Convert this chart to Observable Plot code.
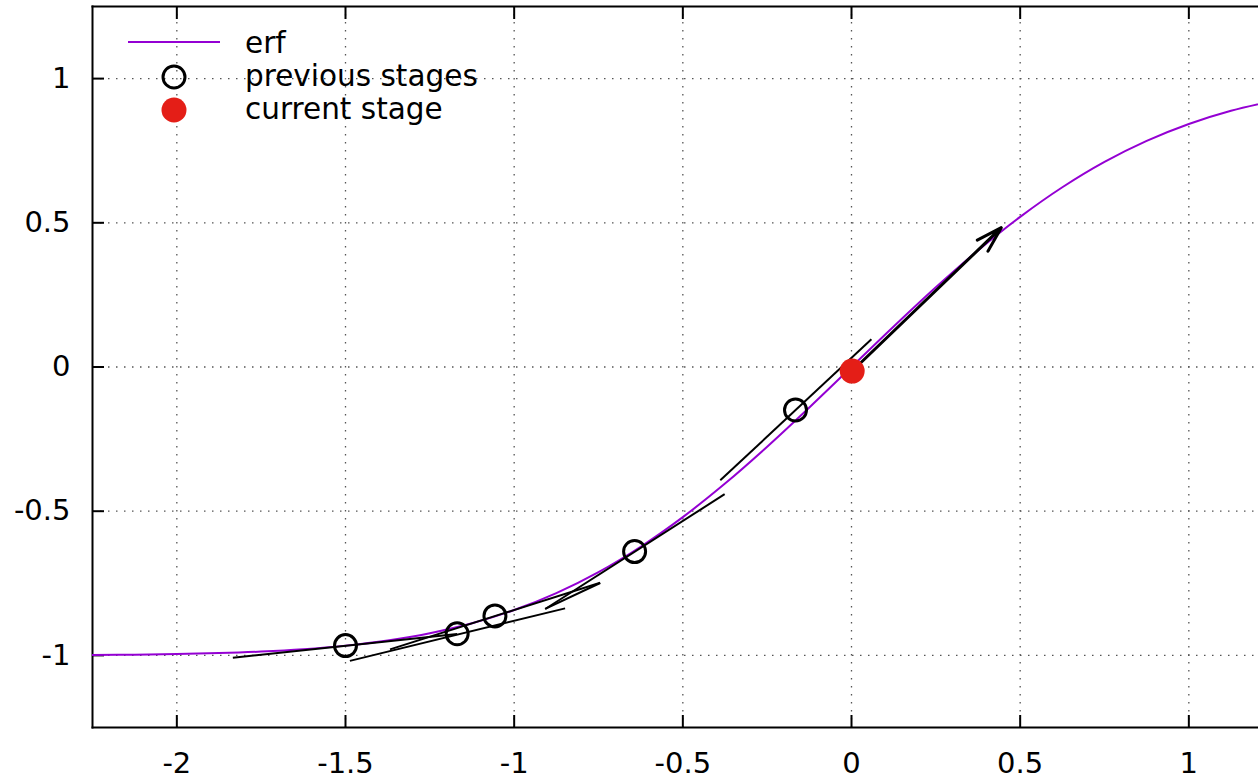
<!DOCTYPE html>
<html><head><meta charset="utf-8">
<script src="https://cdn.jsdelivr.net/npm/d3@7"></script>
<script src="https://cdn.jsdelivr.net/npm/@observablehq/plot@0.6"></script>
<style>
html,body{margin:0;padding:0;background:#fff;overflow:hidden}
</style></head><body><div id="chart"></div>
<script>
// erf curve samples
const curveX = [-2.25,-2.125,-2,-1.875,-1.75,-1.625,-1.5,-1.375,-1.25,-1.125,-1,-0.875,-0.75,-0.625,-0.5,-0.375,-0.25,-0.125,0,0.125,0.25,0.375,0.5,0.625,0.75,0.875,1,1.125,1.25];
const curveY = [-0.9985,-0.9974,-0.9953,-0.9920,-0.9867,-0.9785,-0.9661,-0.9482,-0.9229,-0.8884,-0.8427,-0.7841,-0.7112,-0.6232,-0.5205,-0.4041,-0.2763,-0.1403,0,0.1403,0.2763,0.4041,0.5205,0.6232,0.7112,0.7841,0.8427,0.8884,0.9229];

// stage points
const prevX = [-1.5, -1.169, -1.057, -0.643, -0.166];
const prevY = [-0.966, -0.925, -0.863, -0.640, -0.149];
const currX = [0.002];
const currY = [-0.014];

// slope segments
const segX1 = [-1.834, -1.487, -1.368, -0.908, -0.908, -0.389];
const segY1 = [-1.008, -1.019, -0.979, -0.839, -0.839, -0.393];
const segX2 = [-1.169, -0.849, -0.745, -0.745, -0.376, 0.059];
const segY2 = [-0.926, -0.837, -0.748, -0.749, -0.441, 0.096];

// step arrow
const arrowX1 = [0.002], arrowY1 = [-0.014], arrowX2 = [0.444], arrowY2 = [0.483];

// ticks
const xTicks = [-2, -1.5, -1, -0.5, 0, 0.5, 1];
const xTickLabels = ["-2", "-1.5", "-1", "-0.5", "0", "0.5", "1"];
const yTicks = [-1, -0.5, 0, 0.5, 1];
const yTickLabels = ["-1", "-0.5", "0", "0.5", "1"];
const legendLabels = ["erf", "previous stages", "current stage"];

const curve = curveX.map((x, i) => ({x, y: curveY[i]}));
const prev = prevX.map((x, i) => ({x, y: prevY[i]}));
const curr = currX.map((x, i) => ({x, y: currY[i]}));
const segs = segX1.map((x1, i) => ({x1, y1: segY1[i], x2: segX2[i], y2: segY2[i]}));
const arrows = arrowX1.map((x1, i) => ({x1, y1: arrowY1[i], x2: arrowX2[i], y2: arrowY2[i]}));

const FS = 29;
const LFS = 29.5;
const font = "DejaVu Sans";
const purple = "#9400d3";
const red = "#e41e17";

function legend(index, scales, values, dimensions) {
  const g = d3.create("svg:g").attr("font-family", font).attr("font-size", LFS).attr("text-anchor", "start");
  const rows = [42, 77, 110];
  g.append("line").attr("x1", 128).attr("x2", 220).attr("y1", rows[0]).attr("y2", rows[0])
    .attr("stroke", purple).attr("stroke-width", 2);
  g.append("circle").attr("cx", 174).attr("cy", rows[1]).attr("r", 11)
    .attr("fill", "none").attr("stroke", "#000").attr("stroke-width", 3);
  g.append("circle").attr("cx", 174).attr("cy", rows[2]).attr("r", 12.5).attr("fill", red);
  const ty = [43, 76, 109];
  legendLabels.forEach((t, i) => {
    g.append("text").attr("x", 245).attr("y", ty[i]).attr("dy", "0.35em")
      .attr("text-anchor", "start").attr("fill", "#000").text(t);
  });
  return g.node();
}

const fmt = (ticks, labels) => d => { const i = ticks.indexOf(d); return i >= 0 ? labels[i] : ""; };

const chart = Plot.plot({
  width: 1258,
  height: 780,
  marginLeft: 92,
  marginRight: 0,
  marginTop: 6,
  marginBottom: 53,
  style: {fontFamily: font, fontSize: FS + "px", background: "#fff", color: "#000"},
  x: {domain: [-2.25, 1.2065], label: null},
  y: {domain: [-1.25, 1.25], label: null},
  marks: [
    Plot.gridX(xTicks, {stroke: "#555", strokeOpacity: 1, strokeWidth: 1.3, strokeDasharray: "1.5,6.5"}),
    Plot.gridY(yTicks, {stroke: "#555", strokeOpacity: 1, strokeWidth: 1.3, strokeDasharray: "1.5,6.5"}),
    Plot.axisX(xTicks, {anchor: "bottom", tickSize: 12, dy: -12, strokeWidth: 2, tickFormat: () => "", label: null}),
    Plot.axisX(xTicks, {anchor: "top", tickSize: 12, dy: 12, strokeWidth: 2, tickFormat: () => "", label: null}),
    Plot.axisY(yTicks, {anchor: "left", tickSize: 12, dx: 12, strokeWidth: 2, tickFormat: () => "", label: null}),
    Plot.axisX(xTicks, {anchor: "bottom", tickSize: 0, tickPadding: 25, fontSize: FS, tickFormat: fmt(xTicks, xTickLabels), label: null}),
    Plot.axisY(yTicks, {anchor: "left", tickSize: 0, tickPadding: 22, fontSize: FS, tickFormat: fmt(yTicks, yTickLabels), label: null}),
    Plot.frame({anchor: "left", strokeWidth: 2}),
    Plot.frame({anchor: "top", strokeWidth: 2}),
    Plot.frame({anchor: "bottom", strokeWidth: 2}),
    Plot.line(curve, {x: "x", y: "y", stroke: purple, strokeWidth: 2, curve: "catmull-rom", clip: true}),
    Plot.link(segs, {x1: "x1", y1: "y1", x2: "x2", y2: "y2", stroke: "#000", strokeWidth: 2}),
    Plot.arrow(arrows, {x1: "x1", y1: "y1", x2: "x2", y2: "y2", stroke: "#000", strokeWidth: 3, headAngle: 33, headLength: 13.5}),
    Plot.dot(prev, {x: "x", y: "y", r: 11, stroke: "#000", strokeWidth: 3, fill: "none"}),
    Plot.dot(curr, {x: "x", y: "y", r: 12.5, fill: red, stroke: "none"}),
    legend
  ]
});
document.getElementById("chart").appendChild(chart);
</script>
</body></html>
